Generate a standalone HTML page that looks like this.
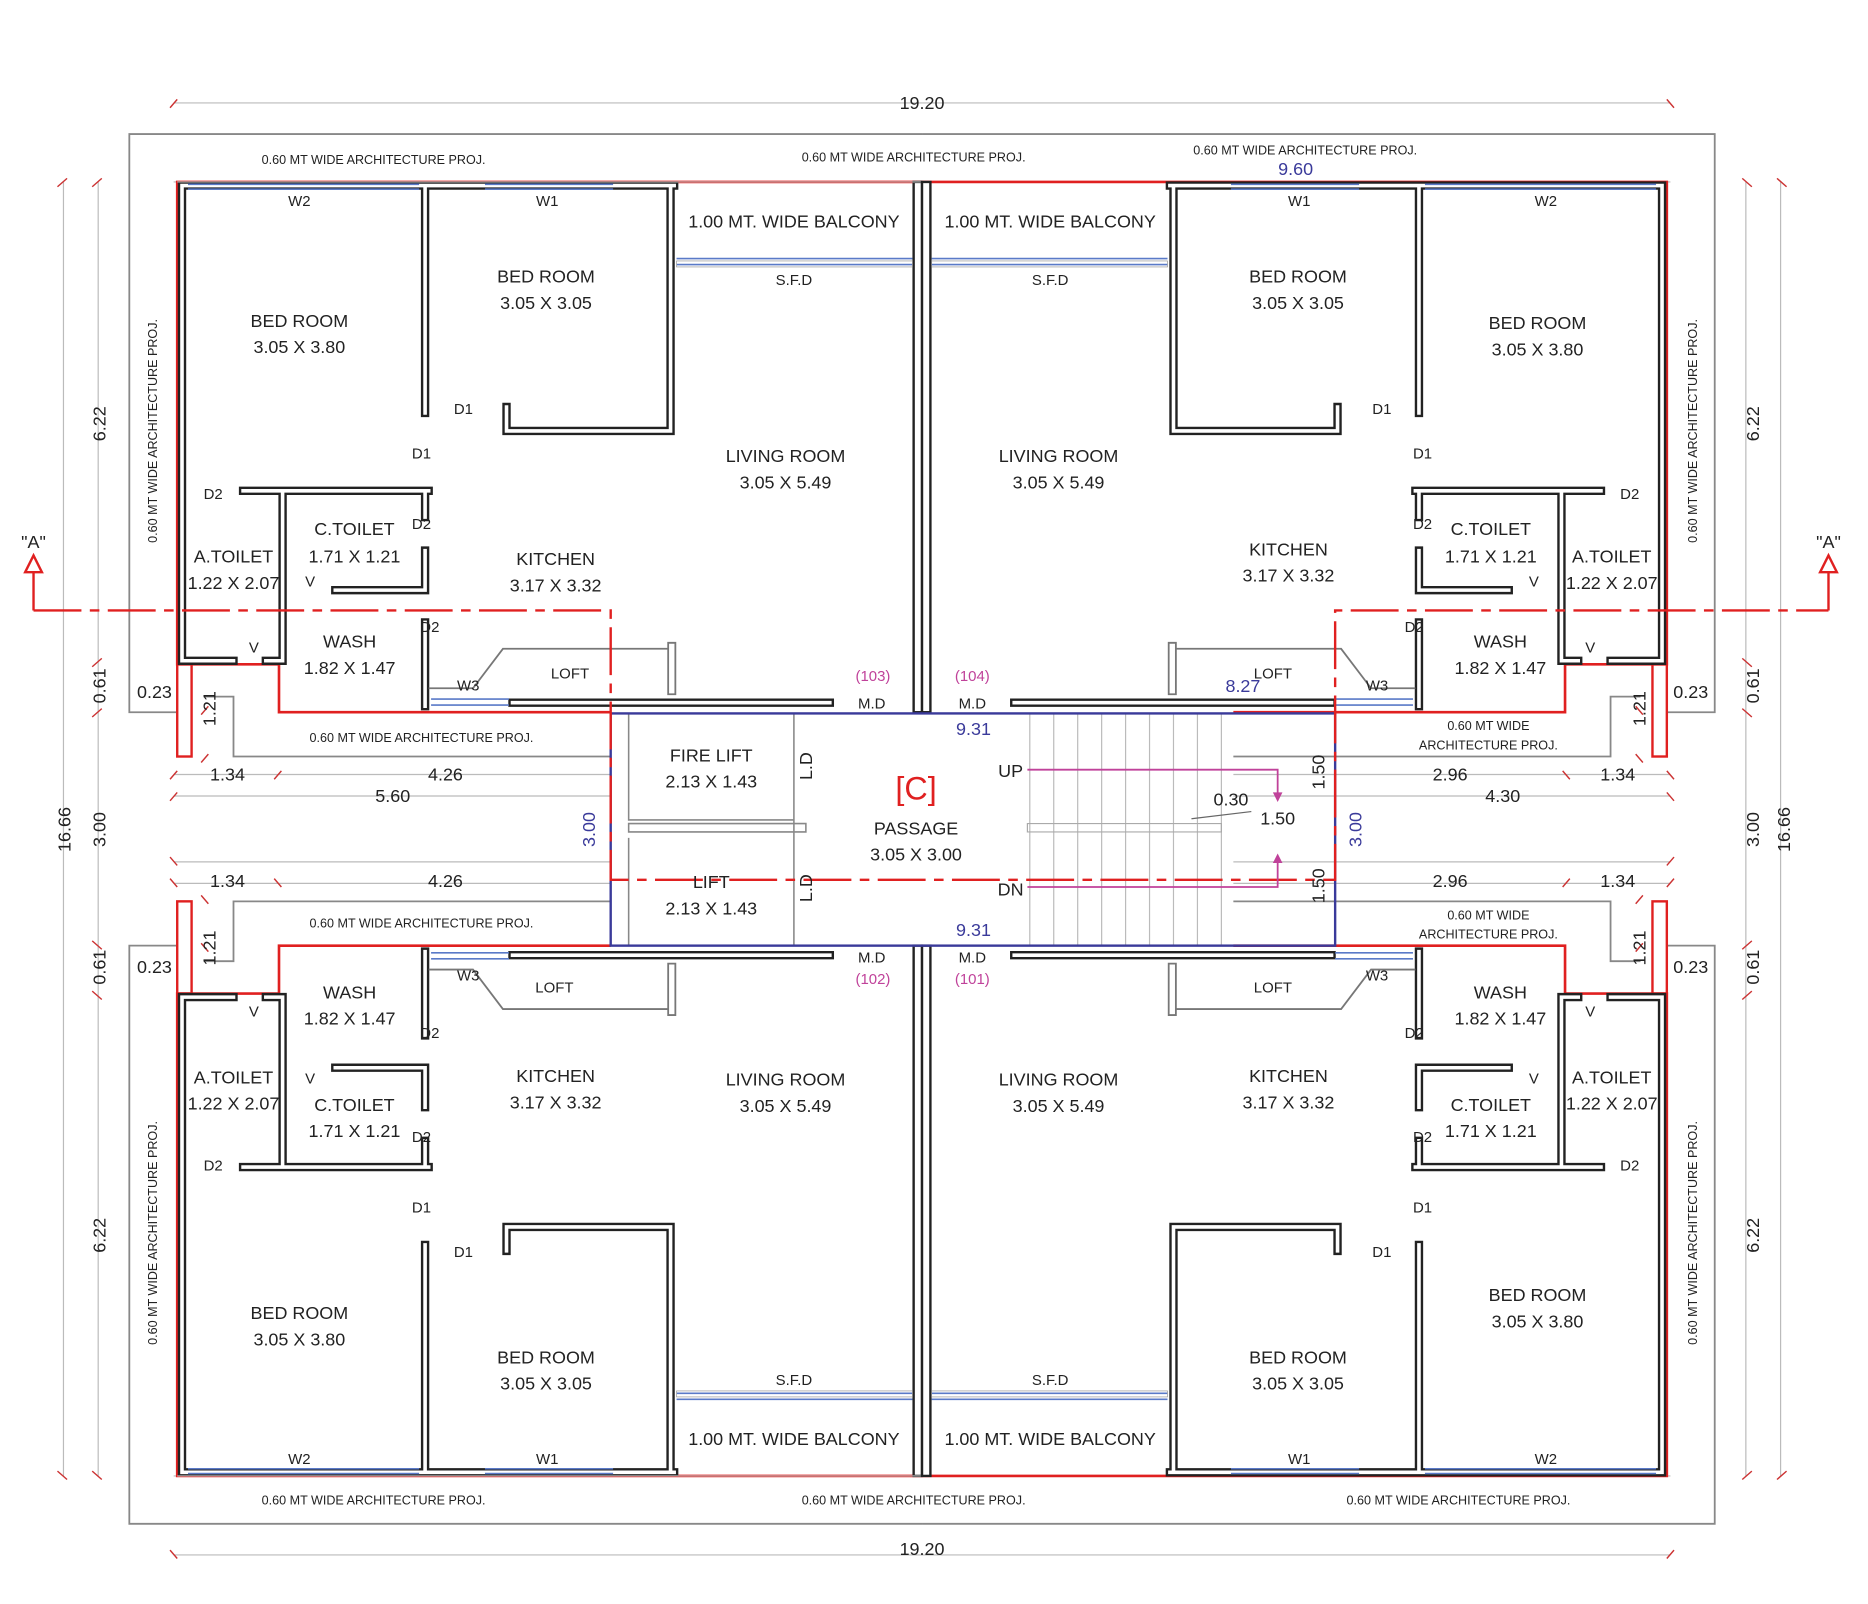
<!DOCTYPE html>
<html><head><meta charset="utf-8"><style>
html,body{margin:0;padding:0;background:#fff}
svg{display:block}
text{font-family:"Liberation Sans Narrow","Liberation Sans",sans-serif;fill:#222;text-anchor:middle}
.s{font-size:10.5px}.m{font-size:12.5px}.l{font-size:15px}
.b{fill:#3a3a9a}.p{fill:#c0429a}
</style></head><body>
<svg width="1868" height="1604" viewBox="0 0 1560 1340" preserveAspectRatio="none" xmlns="http://www.w3.org/2000/svg">
<rect width="1560" height="1340" fill="#fff"/>
<defs>
<g id="q">
 <path d="M770,112 H108 V595 H148 M170,582 H195 V632 H510" fill="none" stroke="#888" stroke-width="1.5"/>
 <path d="M145,86 H770 M53,152 V693 M82,152 V693 M145,647 H510 M145,665 H510 M145,152 H1392" fill="none" stroke="#bbb" stroke-width="1"/>
 <path d="M142,90 l6,-7 M48,156 l8,-7 M77,156 l8,-7 M77,557 l8,-7 M77,599 l8,-7 M142,651 l6,-7 M229,651 l6,-7 M142,669 l6,-7 M168,637 l6,-7 M168,597 l6,-7" stroke="#c33" stroke-width="1.2"/>
 <path d="M770,152 H148 V555 H233 V595 H510" fill="none" stroke="#e02020" stroke-width="2.2"/>
 <rect x="148" y="555" width="12" height="77" fill="none" stroke="#e02020" stroke-width="2"/>
 <g fill="none" stroke-linecap="square">
  <path d="M152,155 V552 H195 M222,552 H236 M152,155 H563 M355,155 V345 M560,155 V360 H423 V340 M203,410 H358 M236,410 V552 M355,410 V432 M355,460 V493 H280 M355,520 V590 M428,587 H693" stroke="#222" stroke-width="7"/>
  <path d="M152,155 V552 H195 M222,552 H236 M152,155 H563 M355,155 V345 M560,155 V360 H423 V340 M203,410 H358 M236,410 V552 M355,410 V432 M355,460 V493 H280 M355,520 V590 M428,587 H693" stroke="#fff" stroke-width="3"/>
 </g>
 <rect x="763" y="152" width="7" height="443" fill="#fff" stroke="#222" stroke-width="2"/>
 <path d="M157,154 H350 M157,158 H350 M405,154 H512 M405,158 H512 M565,216 H762 M565,221 H762 M360,584 H425 M360,589 H425" stroke="#5a7ac8" stroke-width="1.3"/>
 <rect x="565" y="218" width="197" height="5" fill="none" stroke="#999" stroke-width="0.6"/>
 <path d="M358,575 H395 L420,542 H558 M558,537 V580 H564 V537 Z" fill="none" stroke="#777" stroke-width="1.5"/>
</g>
</defs>
<use href="#q"/>
<use href="#q" transform="matrix(-1,0,0,1,1540,0)"/>
<use href="#q" transform="matrix(1,0,0,-1,0,1385)"/>
<use href="#q" transform="matrix(-1,0,0,-1,1540,1385)"/>
<!-- passage bits -->
<path d="M525,596 V685 H663 M525,688 H673 V695 H525 Z M663,596 V790 M525,700 V790" fill="none" stroke="#888" stroke-width="1.3"/>
<path d="M860,596 V790 M880,596 V790 M900,596 V790 M920,596 V790 M940,596 V790 M960,596 V790 M980,596 V790 M1000,596 V790 M1020,596 V790" stroke="#bbb" stroke-width="1"/>
<path d="M858,688 H1020 V695 H858 Z" fill="none" stroke="#aaa" stroke-width="1"/>
<rect x="510" y="596" width="605" height="194" fill="none" stroke="#3a3a9a" stroke-width="2"/>
<path d="M28,510 H510 V735 H1115 V510 H1527" fill="none" stroke="#e02020" stroke-width="2" stroke-dasharray="40,7,8,7"/>
<path d="M28,510 V478 M1527,510 V478" stroke="#e02020" stroke-width="2"/>
<path d="M21,478 L28,464 L35,478 Z M1520,478 L1527,464 L1534,478 Z" fill="#fff" stroke="#e02020" stroke-width="2"/>
<path d="M858,643 H1067 V668 M858,741 H1067 V715" fill="none" stroke="#c0429a" stroke-width="1.5"/>
<path d="M1063,662 L1067,670 L1071,662 Z M1063,721 L1067,713 L1071,721 Z" fill="#c0429a"/>
<path d="M995,684 L1045,678" stroke="#666" stroke-width="1"/>

<g class="s">
<text x="312" y="137">0.60 MT WIDE ARCHITECTURE PROJ.</text>
<text x="763" y="135">0.60 MT WIDE ARCHITECTURE PROJ.</text>
<text x="1090" y="129">0.60 MT WIDE ARCHITECTURE PROJ.</text>
<text x="352" y="620">0.60 MT WIDE ARCHITECTURE PROJ.</text>
<text x="1243" y="610">0.60 MT WIDE</text><text x="1243" y="626">ARCHITECTURE PROJ.</text>
<text x="352" y="775">0.60 MT WIDE ARCHITECTURE PROJ.</text>
<text x="1243" y="768">0.60 MT WIDE</text><text x="1243" y="784">ARCHITECTURE PROJ.</text>
<text x="312" y="1257">0.60 MT WIDE ARCHITECTURE PROJ.</text>
<text x="763" y="1257">0.60 MT WIDE ARCHITECTURE PROJ.</text>
<text x="1218" y="1257">0.60 MT WIDE ARCHITECTURE PROJ.</text>
<text transform="translate(131,360) rotate(-90)">0.60 MT WIDE ARCHITECTURE PROJ.</text>
<text transform="translate(1417,360) rotate(-90)">0.60 MT WIDE ARCHITECTURE PROJ.</text>
<text transform="translate(131,1030) rotate(-90)">0.60 MT WIDE ARCHITECTURE PROJ.</text>
<text transform="translate(1417,1030) rotate(-90)">0.60 MT WIDE ARCHITECTURE PROJ.</text>
</g>
<g class="m">
<text x="770" y="91" class="l">19.20</text><text x="770" y="1299" class="l">19.20</text>
<text x="1082" y="146" class="b l">9.60</text>
<text x="250" y="172">W2</text><text x="457" y="172">W1</text><text x="1085" y="172">W1</text><text x="1291" y="172">W2</text>
<text x="250" y="1223">W2</text><text x="457" y="1223">W1</text><text x="1085" y="1223">W1</text><text x="1291" y="1223">W2</text>
<text x="663" y="238">S.F.D</text><text x="877" y="238">S.F.D</text>
<text x="663" y="1157">S.F.D</text><text x="877" y="1157">S.F.D</text>
<text x="387" y="346">D1</text><text x="1154" y="346">D1</text><text x="352" y="383">D1</text><text x="1188" y="383">D1</text>
<text x="178" y="417">D2</text><text x="1361" y="417">D2</text><text x="352" y="442">D2</text><text x="1188" y="442">D2</text>
<text x="259" y="490">V</text><text x="1281" y="490">V</text><text x="212" y="545">V</text><text x="1328" y="545">V</text>
<text x="359" y="528">D2</text><text x="1181" y="528">D2</text>
<text x="476" y="567">LOFT</text><text x="1063" y="567">LOFT</text>
<text x="391" y="577">W3</text><text x="1150" y="577">W3</text>
<text x="729" y="569" class="p">(103)</text><text x="812" y="569" class="p">(104)</text>
<text x="728" y="592">M.D</text><text x="812" y="592">M.D</text>
<text x="728" y="804">M.D</text><text x="812" y="804">M.D</text>
<text x="729" y="822" class="p">(102)</text><text x="812" y="822" class="p">(101)</text>
<text x="463" y="829">LOFT</text><text x="1063" y="829">LOFT</text>
<text x="391" y="819">W3</text><text x="1150" y="819">W3</text>
<text x="212" y="849">V</text><text x="1328" y="849">V</text>
<text x="359" y="867">D2</text><text x="1181" y="867">D2</text>
<text x="259" y="905">V</text><text x="1281" y="905">V</text>
<text x="352" y="954">D2</text><text x="1188" y="954">D2</text>
<text x="178" y="978">D2</text><text x="1361" y="978">D2</text>
<text x="352" y="1013">D1</text><text x="1188" y="1013">D1</text>
<text x="387" y="1050">D1</text><text x="1154" y="1050">D1</text>
</g>
<g class="l">
<text x="663" y="190">1.00 MT. WIDE BALCONY</text><text x="877" y="190">1.00 MT. WIDE BALCONY</text>
<text x="663" y="1207">1.00 MT. WIDE BALCONY</text><text x="877" y="1207">1.00 MT. WIDE BALCONY</text>
<text x="456" y="236">BED ROOM</text><text x="456" y="258">3.05 X 3.05</text>
<text x="1084" y="236">BED ROOM</text><text x="1084" y="258">3.05 X 3.05</text>
<text x="250" y="273">BED ROOM</text><text x="250" y="295">3.05 X 3.80</text>
<text x="1284" y="275">BED ROOM</text><text x="1284" y="297">3.05 X 3.80</text>
<text x="656" y="386">LIVING ROOM</text><text x="656" y="408">3.05 X 5.49</text>
<text x="884" y="386">LIVING ROOM</text><text x="884" y="408">3.05 X 5.49</text>
<text x="296" y="447">C.TOILET</text><text x="296" y="470">1.71 X 1.21</text>
<text x="1245" y="447">C.TOILET</text><text x="1245" y="470">1.71 X 1.21</text>
<text x="464" y="472">KITCHEN</text><text x="464" y="494">3.17 X 3.32</text>
<text x="1076" y="464">KITCHEN</text><text x="1076" y="486">3.17 X 3.32</text>
<text x="195" y="470">A.TOILET</text><text x="195" y="492">1.22 X 2.07</text>
<text x="1346" y="470">A.TOILET</text><text x="1346" y="492">1.22 X 2.07</text>
<text x="292" y="541">WASH</text><text x="292" y="563">1.82 X 1.47</text>
<text x="1253" y="541">WASH</text><text x="1253" y="563">1.82 X 1.47</text>
<text x="292" y="834">WASH</text><text x="292" y="856">1.82 X 1.47</text>
<text x="1253" y="834">WASH</text><text x="1253" y="856">1.82 X 1.47</text>
<text x="464" y="904">KITCHEN</text><text x="464" y="926">3.17 X 3.32</text>
<text x="1076" y="904">KITCHEN</text><text x="1076" y="926">3.17 X 3.32</text>
<text x="656" y="907">LIVING ROOM</text><text x="656" y="929">3.05 X 5.49</text>
<text x="884" y="907">LIVING ROOM</text><text x="884" y="929">3.05 X 5.49</text>
<text x="195" y="905">A.TOILET</text><text x="195" y="927">1.22 X 2.07</text>
<text x="1346" y="905">A.TOILET</text><text x="1346" y="927">1.22 X 2.07</text>
<text x="296" y="928">C.TOILET</text><text x="296" y="950">1.71 X 1.21</text>
<text x="1245" y="928">C.TOILET</text><text x="1245" y="950">1.71 X 1.21</text>
<text x="250" y="1102">BED ROOM</text><text x="250" y="1124">3.05 X 3.80</text>
<text x="1284" y="1087">BED ROOM</text><text x="1284" y="1109">3.05 X 3.80</text>
<text x="456" y="1139">BED ROOM</text><text x="456" y="1161">3.05 X 3.05</text>
<text x="1084" y="1139">BED ROOM</text><text x="1084" y="1161">3.05 X 3.05</text>
<text x="594" y="636">FIRE LIFT</text><text x="594" y="658">2.13 X 1.43</text>
<text x="594" y="742">LIFT</text><text x="594" y="764">2.13 X 1.43</text>
<text x="765" y="697">PASSAGE</text><text x="765" y="719">3.05 X 3.00</text>
<text x="844" y="649">UP</text><text x="844" y="748">DN</text>
<text x="1028" y="673">0.30</text><text x="1067" y="689">1.50</text>
<text x="813" y="614" class="b">9.31</text><text x="813" y="782" class="b">9.31</text>
<text x="1038" y="578" class="b">8.27</text>
<text x="28" y="458">"A"</text><text x="1527" y="458">"A"</text>
<text x="129" y="583">0.23</text><text x="1412" y="583">0.23</text>
<text x="129" y="813">0.23</text><text x="1412" y="813">0.23</text>
<text x="190" y="652">1.34</text><text x="372" y="652">4.26</text><text x="328" y="670">5.60</text>
<text x="1211" y="652">2.96</text><text x="1351" y="652">1.34</text><text x="1255" y="670">4.30</text>
<text x="190" y="741">1.34</text><text x="372" y="741">4.26</text>
<text x="1211" y="741">2.96</text><text x="1351" y="741">1.34</text>
<text x="765" y="668" style="font-size:27px;fill:#e02020">[C]</text>
<text transform="translate(678,640) rotate(-90)">L.D</text>
<text transform="translate(678,742) rotate(-90)">L.D</text>
<text transform="translate(1106,645) rotate(-90)">1.50</text>
<text transform="translate(1106,740) rotate(-90)">1.50</text>
<text transform="translate(497,693) rotate(-90)" class="b">3.00</text>
<text transform="translate(1137,693) rotate(-90)" class="b">3.00</text>
<text transform="translate(88,354) rotate(-90)">6.22</text>
<text transform="translate(88,573) rotate(-90)">0.61</text>
<text transform="translate(88,693) rotate(-90)">3.00</text>
<text transform="translate(59,693) rotate(-90)">16.66</text>
<text transform="translate(88,808) rotate(-90)">0.61</text>
<text transform="translate(88,1032) rotate(-90)">6.22</text>
<text transform="translate(1469,354) rotate(-90)">6.22</text>
<text transform="translate(1469,573) rotate(-90)">0.61</text>
<text transform="translate(1469,693) rotate(-90)">3.00</text>
<text transform="translate(1495,693) rotate(-90)">16.66</text>
<text transform="translate(1469,808) rotate(-90)">0.61</text>
<text transform="translate(1469,1032) rotate(-90)">6.22</text>
<text transform="translate(180,592) rotate(-90)">1.21</text>
<text transform="translate(180,792) rotate(-90)">1.21</text>
<text transform="translate(1374,592) rotate(-90)">1.21</text>
<text transform="translate(1374,792) rotate(-90)">1.21</text>
</g>
<rect x="470" y="1343" width="100" height="2" fill="#bbb"/>
</svg>
</body></html>
